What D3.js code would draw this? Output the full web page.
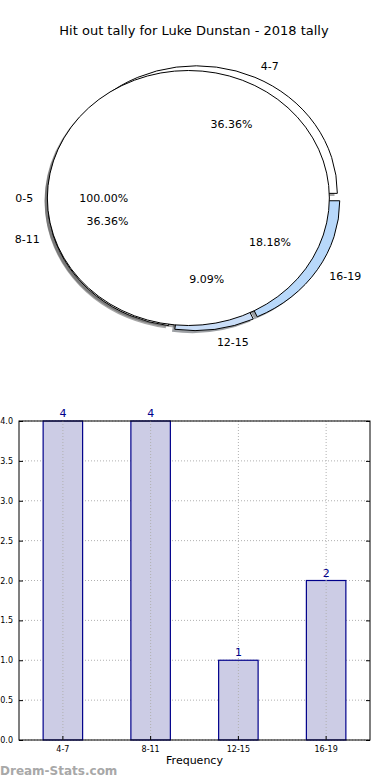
<!DOCTYPE html>
<html>
<head>
<meta charset="utf-8">
<script src="https://cdn.jsdelivr.net/npm/d3@7"></script>
<style>
  body { margin: 0; background: #fff; }
  svg { display: block; font-family: "DejaVu Sans", sans-serif; }
</style>
</head>
<body>
<svg width="390" height="780"></svg>
<script>
// data
var titleText = "Hit out tally for Luke Dunstan - 2018 tally";
var baseLabels = ["0-5"];
var baseValues = [1];
var baseColors = ["#ffffff"];
var categories = ["4-7", "8-11", "12-15", "16-19"];
var counts = [4, 4, 1, 2];
var sliceColors = ["#ffffff", "#ffffff", "#c9ddf7", "#b8d8fa"];
var explodeBy = 0.04;
var yTicks = [0, 0.5, 1, 1.5, 2, 2.5, 3, 3.5, 4];

var svg = d3.select("svg"),
    width = +svg.attr("width"),
    height = +svg.attr("height");

svg.append("text")
    .attr("x", 194).attr("y", 35)
    .attr("text-anchor", "middle")
    .style("font-size", "13px")
    .text(titleText);

// ---------- pie (drawn as an ellipse, like matplotlib without equal aspect)
var cx = 194, cy = 198, rx = 141, ry = 127.5;

// matplotlib style angles: counter clockwise from +x, starting at 0
function slices(values, labels, colors) {
  var total = d3.sum(values), a = 0;
  return values.map(function(v, i) {
    var a0 = a, a1 = a + v / total * 2 * Math.PI;
    a = a1;
    return { label: labels[i], value: v, frac: v / total, a0: a0, a1: a1,
             mid: (a0 + a1) / 2, color: colors[i] };
  });
}
var pieA = slices(counts, categories, sliceColors);
var pieB = slices(baseValues, baseLabels, baseColors);

var arc = d3.arc().innerRadius(0).outerRadius(1);
function wedgePath(d) {
  // convert to d3 angles (clockwise from 12 o'clock)
  if (d.frac >= 1) {
    return "M1,0A1,1 0 1,1 -1,0A1,1 0 1,1 1,0Z";
  }
  return arc({ startAngle: Math.PI / 2 - d.a1, endAngle: Math.PI / 2 - d.a0 });
}
function ex(d) { return explodeBy * Math.cos(d.mid); }
function ey(d) { return -explodeBy * Math.sin(d.mid); }

var pieG = svg.append("g")
    .attr("transform", "translate(" + cx + "," + cy + ") scale(" + rx + "," + ry + ")");

var all = pieA.concat(pieB);

// shadows under everything
pieG.selectAll(".shadow")
  .data(all)
  .enter().append("path")
    .attr("class", "shadow")
    .attr("transform", function(d) { return "translate(" + (ex(d) - 0.02) + "," + (ey(d) + 0.02) + ")"; })
    .attr("d", wedgePath)
    .style("fill", function(d) {
      var c = d3.rgb(d.color);
      return d3.rgb(c.r * 0.3, c.g * 0.3, c.b * 0.3);
    })
    .style("fill-opacity", 0.5);

pieG.selectAll(".wedge")
  .data(all)
  .enter().append("path")
    .attr("class", "wedge")
    .attr("transform", function(d) { return "translate(" + ex(d) + "," + ey(d) + ")"; })
    .attr("d", wedgePath)
    .style("fill", function(d) { return d.color; })
    .style("stroke", "#000")
    .style("stroke-width", 1)
    .attr("vector-effect", "non-scaling-stroke");

function px(d, r) { return cx + (ex(d) + r * Math.cos(d.mid)) * rx; }
function py(d, r) { return cy + (ey(d) - r * Math.sin(d.mid)) * ry; }

svg.selectAll(".plabel")
  .data(all)
  .enter().append("text")
    .attr("class", "plabel")
    .attr("x", function(d) { return px(d, 1.1); })
    .attr("y", function(d) { return py(d, 1.1); })
    .attr("dy", "0.35em")
    .attr("text-anchor", function(d) { return Math.cos(d.mid) > 0 ? "start" : "end"; })
    .style("font-size", "11px")
    .text(function(d) { return d.label; });

svg.selectAll(".pct")
  .data(all)
  .enter().append("text")
    .attr("class", "pct")
    .attr("x", function(d) { return px(d, 0.6); })
    .attr("y", function(d) { return py(d, 0.6); })
    .attr("dy", "0.35em")
    .attr("text-anchor", "middle")
    .style("font-size", "11px")
    .text(function(d) { return (d.frac * 100).toFixed(2) + "%"; });

// ---------- bar chart
var plotL = 19, plotR = 370, plotT = 421, plotB = 740;

var x = d3.scaleBand().domain(categories).range([plotL, plotR]).padding(0);
var y = d3.scaleLinear().domain([0, 4]).range([plotB, plotT]);
var barW = x.bandwidth() * 0.45;

var bars = svg.append("g");

// grid
bars.selectAll(".hgrid")
  .data(yTicks)
  .enter().append("line")
    .attr("x1", plotL).attr("x2", plotR)
    .attr("y1", function(d) { return y(d); })
    .attr("y2", function(d) { return y(d); })
    .style("stroke", "#b0b0b0")
    .style("stroke-dasharray", "1,2");

bars.selectAll(".bar")
  .data(categories)
  .enter().append("rect")
    .attr("x", function(d) { return x(d) + (x.bandwidth() - barW) / 2; })
    .attr("y", function(d, i) { return y(counts[i]); })
    .attr("width", barW)
    .attr("height", function(d, i) { return plotB - y(counts[i]); })
    .style("fill", "#ccccE5")
    .style("stroke", "#00008b")
    .style("stroke-width", 1.2);

bars.selectAll(".vgrid")
  .data(categories)
  .enter().append("line")
    .attr("x1", function(d) { return x(d) + x.bandwidth() / 2; })
    .attr("x2", function(d) { return x(d) + x.bandwidth() / 2; })
    .attr("y1", plotT).attr("y2", plotB)
    .style("stroke", "#b0b0b0")
    .style("stroke-dasharray", "1,2");

bars.selectAll(".val")
  .data(categories)
  .enter().append("text")
    .attr("x", function(d) { return x(d) + x.bandwidth() / 2; })
    .attr("y", function(d, i) { return y(counts[i]) - 4; })
    .attr("text-anchor", "middle")
    .style("font-size", "11px")
    .style("fill", "#00008b")
    .text(function(d, i) { return counts[i]; });

// axes
var yAxis = d3.axisLeft(y).tickValues(yTicks).tickSize(-4).tickPadding(6)
    .tickFormat(d3.format(".1f"));
var yg = bars.append("g").attr("transform", "translate(" + plotL + ",0)").call(yAxis);
var yAxisR = d3.axisRight(y).tickValues(yTicks).tickSize(-4).tickFormat("");
var yg2 = bars.append("g").attr("transform", "translate(" + plotR + ",0)").call(yAxisR);
var xAxis = d3.axisBottom(x).tickSize(-4).tickPadding(6);
var xg = bars.append("g").attr("transform", "translate(0," + plotB + ")").call(xAxis);

[yg, yg2, xg].forEach(function(g) {
  g.select(".domain").remove();
  g.selectAll(".tick line").style("stroke", "#000");
  g.selectAll("text").style("font-size", "8px").style("font-family", "DejaVu Sans");
});

bars.append("rect")
    .attr("x", plotL).attr("y", plotT)
    .attr("width", plotR - plotL).attr("height", plotB - plotT)
    .style("fill", "none")
    .style("stroke", "#000")
    .style("stroke-width", 1);

svg.append("text")
    .attr("x", (plotL + plotR) / 2).attr("y", 764)
    .attr("text-anchor", "middle")
    .style("font-size", "11px")
    .text("Frequency");

svg.append("text")
    .attr("x", 0).attr("y", 775)
    .style("font-size", "12px")
    .style("font-weight", "bold")
    .style("fill", "#a8a8a8")
    .text("Dream-Stats.com");
</script>
</body>
</html>
